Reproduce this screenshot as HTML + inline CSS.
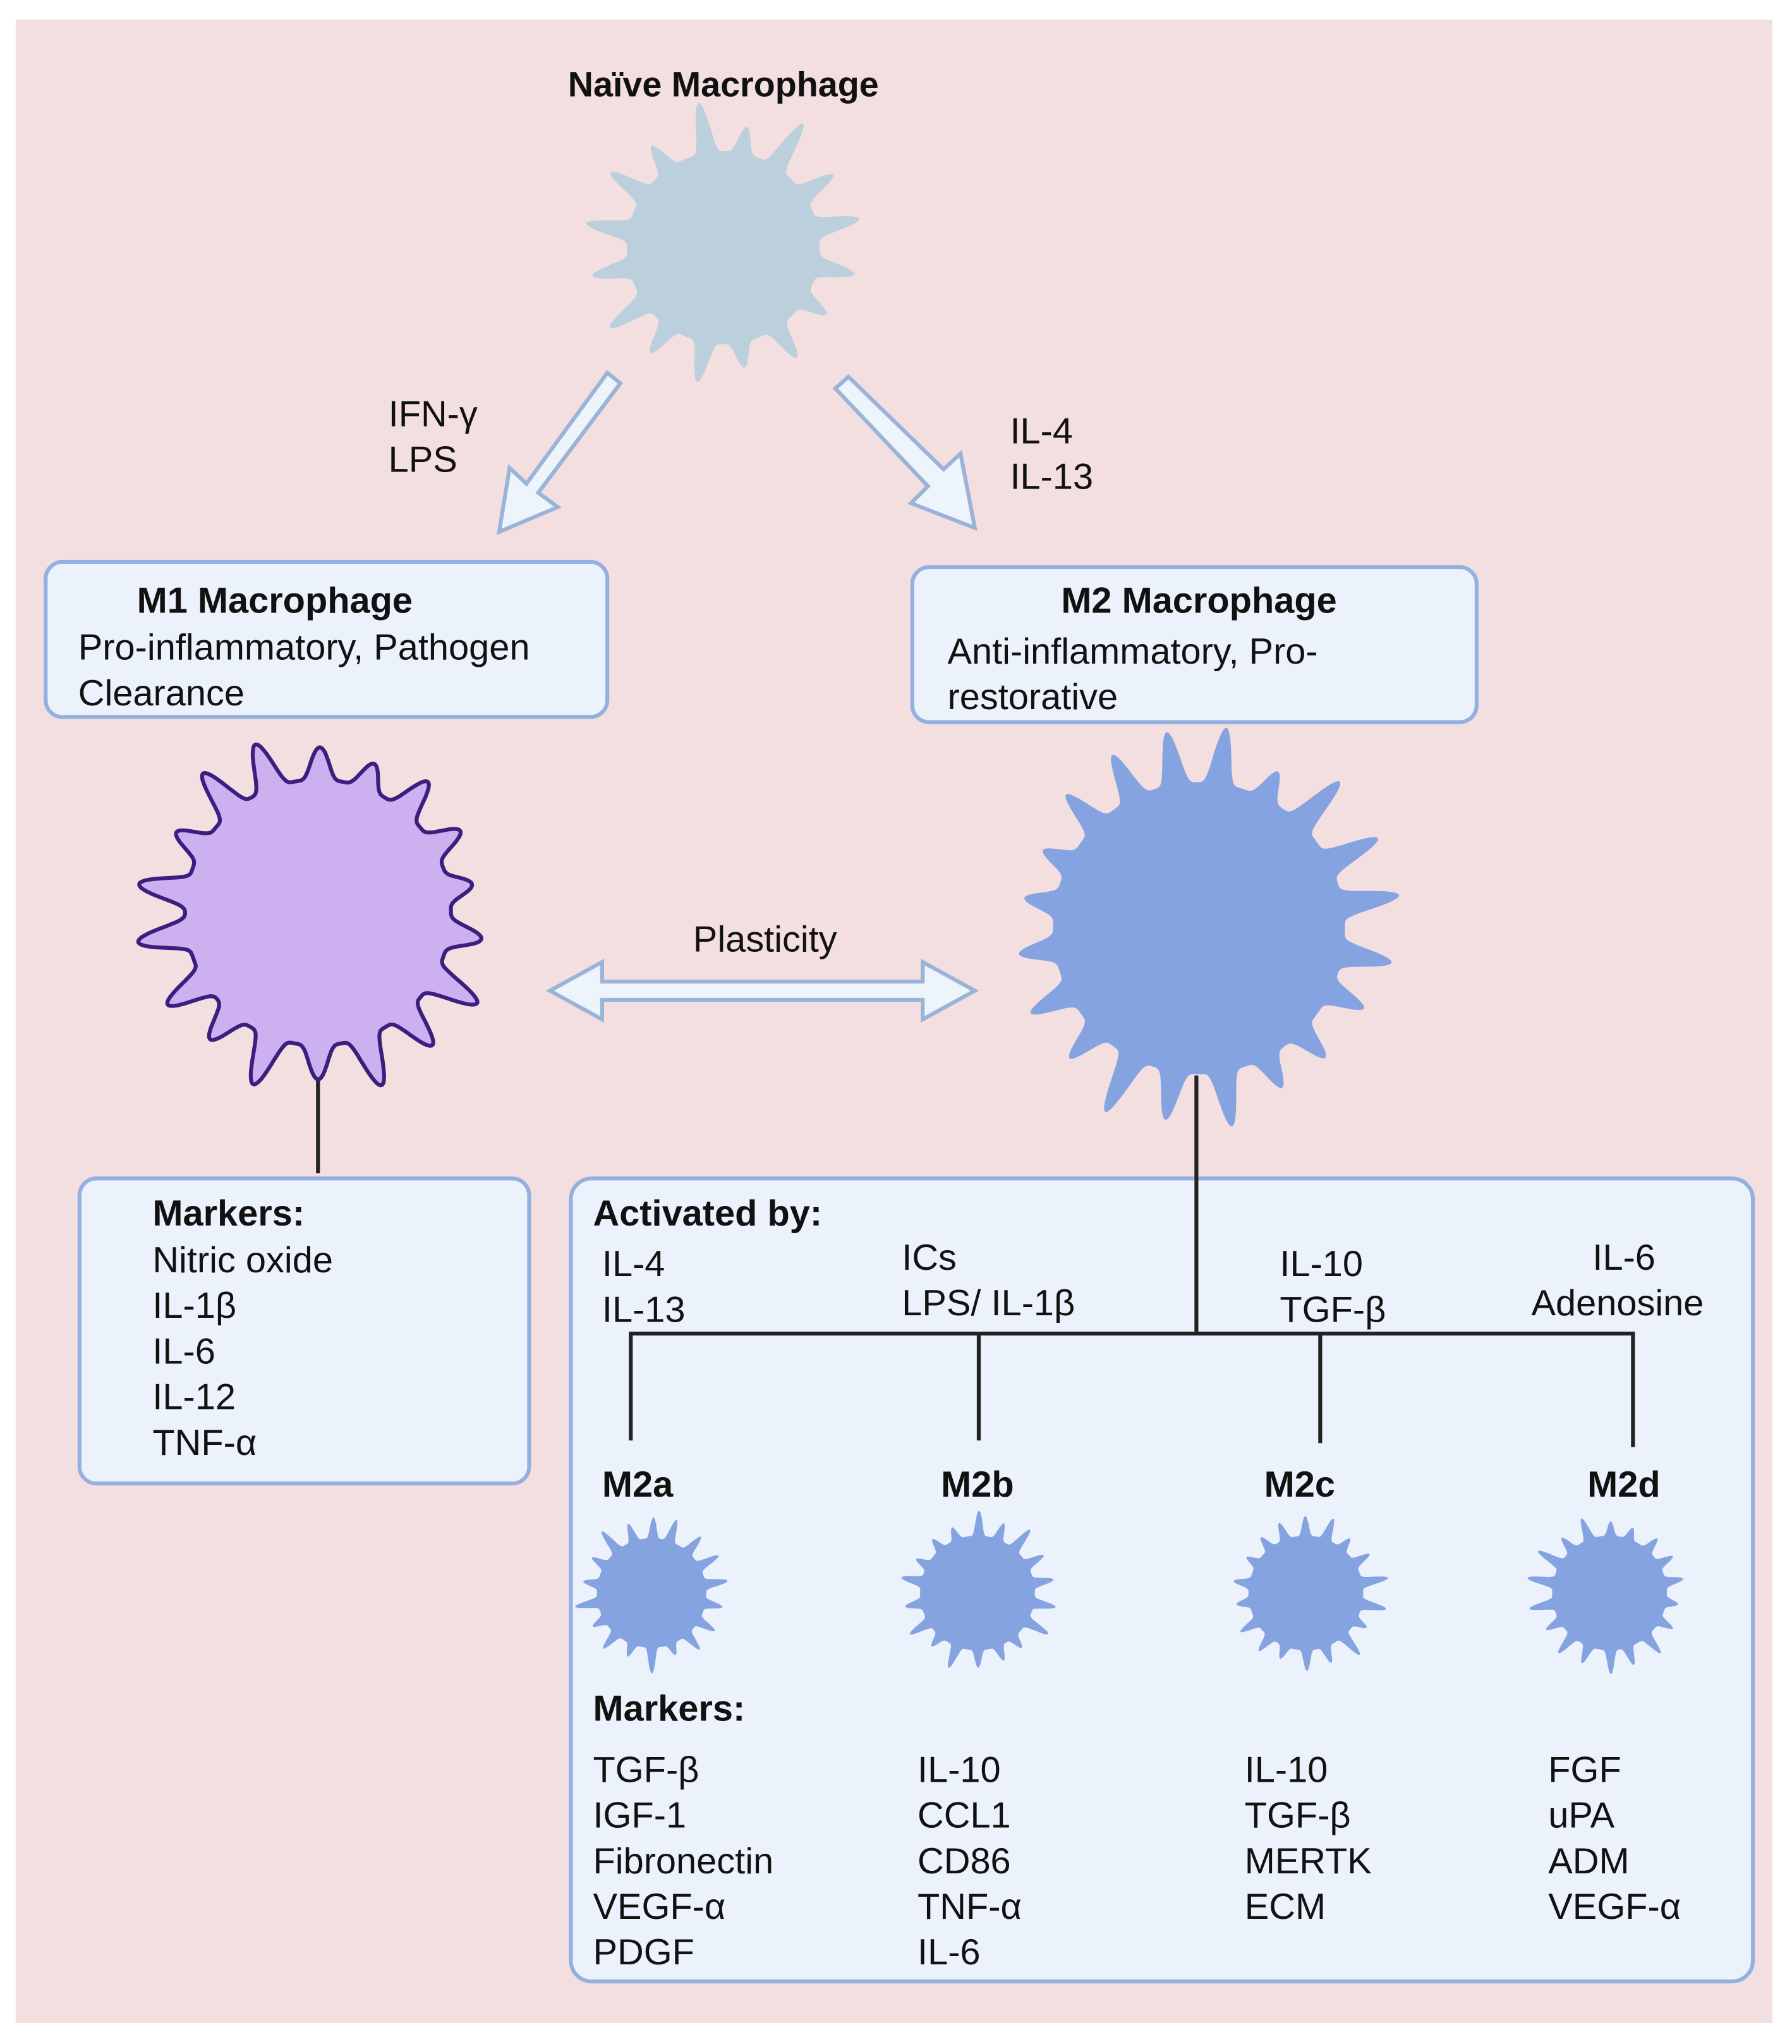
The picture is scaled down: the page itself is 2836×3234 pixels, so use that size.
<!DOCTYPE html>
<html><head><meta charset="utf-8"><style>
html,body{margin:0;padding:0;background:#fff}
svg{display:block}
text{font-family:"Liberation Sans",sans-serif;fill:#111;font-size:28px}
.b{font-weight:bold}
</style></head><body>
<svg id="s" width="2836" height="3234" viewBox="0 0 1375 1568" xmlns="http://www.w3.org/2000/svg">
<rect x="0" y="0" width="1375" height="1568" fill="#fff"/>
<rect x="12" y="15" width="1348" height="1537" fill="#f3dfdf"/>
<text x="555" y="74" text-anchor="middle" class="b" style="font-size:27px">Naïve Macrophage</text>
<g fill="#eef4fb" stroke="#9ab3d8" stroke-width="3" stroke-linejoin="miter">
<polygon points="466,286 476,294 413,378 428,389 383,408 391,359 404,371"/>
<polygon points="641,298 651,289 724,360 737,348 748,405 699,386 712,373"/>
<polygon points="422,760 462,738 462,753 708,753 708,738 748,760 708,782 708,767 462,767 462,782"/>
</g>
<text x="298" y="327">IFN-γ</text><text x="298" y="362">LPS</text>
<text x="775" y="340">IL-4</text><text x="775" y="375">IL-13</text>
<text x="587" y="730" text-anchor="middle">Plasticity</text>
<g fill="#ecf2fb" stroke="#94b0e0" stroke-width="3">
<rect x="35" y="431" width="431" height="119" rx="13"/>
<rect x="700" y="435" width="433" height="119" rx="13"/>
<rect x="61" y="904" width="345" height="234" rx="13"/>
<rect x="438" y="904" width="907" height="616" rx="16"/>
</g>
<text x="105" y="470" class="b">M1 Macrophage</text>
<text x="60" y="506">Pro-inflammatory, Pathogen</text>
<text x="60" y="541">Clearance</text>
<text x="920" y="470" class="b" text-anchor="middle">M2 Macrophage</text>
<text x="727" y="509">Anti-inflammatory, Pro-</text>
<text x="727" y="544">restorative</text>
<g stroke="#222" stroke-width="3" fill="none">
<line x1="244" y1="805" x2="244" y2="900"/>
<line x1="918" y1="825" x2="918" y2="1023"/>
<polyline points="484,1105 484,1023 1253,1023 1253,1110"/>
<line x1="751" y1="1023" x2="751" y2="1105"/>
<line x1="1013" y1="1023" x2="1013" y2="1107"/>
</g>
<g id="cells"></g>
<text x="117" y="940" class="b">Markers:</text>
<text x="117" y="976">Nitric oxide</text>
<text x="117" y="1011">IL-1β</text>
<text x="117" y="1046">IL-6</text>
<text x="117" y="1081">IL-12</text>
<text x="117" y="1116">TNF-α</text>
<text x="455" y="940" class="b">Activated by:</text>
<text x="462" y="979">IL-4</text><text x="462" y="1014">IL-13</text>
<text x="692" y="974">ICs</text><text x="692" y="1009">LPS/ IL-1β</text>
<text x="982" y="979">IL-10</text><text x="982" y="1014">TGF-β</text>
<text x="1222" y="974">IL-6</text><text x="1175" y="1009">Adenosine</text>
<text x="462" y="1148" class="b">M2a</text>
<text x="722" y="1148" class="b">M2b</text>
<text x="970" y="1148" class="b">M2c</text>
<text x="1218" y="1148" class="b">M2d</text>
<text x="455" y="1320" class="b">Markers:</text>
<g>
<text x="455" y="1367">TGF-β</text><text x="455" y="1402">IGF-1</text><text x="455" y="1437">Fibronectin</text><text x="455" y="1472">VEGF-α</text><text x="455" y="1507">PDGF</text>
<text x="704" y="1367">IL-10</text><text x="704" y="1402">CCL1</text><text x="704" y="1437">CD86</text><text x="704" y="1472">TNF-α</text><text x="704" y="1507">IL-6</text>
<text x="955" y="1367">IL-10</text><text x="955" y="1402">TGF-β</text><text x="955" y="1437">MERTK</text><text x="955" y="1472">ECM</text>
<text x="1188" y="1367">FGF</text><text x="1188" y="1402">uPA</text><text x="1188" y="1437">ADM</text><text x="1188" y="1472">VEGF-α</text>
</g>
</svg>
<script>
(function(){
var g=document.getElementById('cells');
function rnd(seed){var s=seed;return function(){s=(s*9301+49297)%233280;return s/233280;};}
function cell(cx,cy,R,A,N,seed,fill,stroke,sw,p){
  var r=rnd(seed),amps=[],offs=[];
  for(var i=0;i<N;i++){amps.push(A*(0.55+0.7*r()));offs.push((r()-0.5)*0.3);}
  var pts=[],M=720;
  for(var k=0;k<M;k++){
    var t=k/M*2*Math.PI;
    var f=t/(2*Math.PI)*N; var i=Math.floor(f)%N; var fr=f-Math.floor(f)-0.5-offs[i]*0.5;
    var sp=Math.pow(Math.max(0,Math.cos(fr*Math.PI)),p);
    var rr=R+amps[i]*sp;
    pts.push((cx+rr*Math.cos(t)).toFixed(1)+','+(cy+rr*Math.sin(t)).toFixed(1));
  }
  var e=document.createElementNS('http://www.w3.org/2000/svg','polygon');
  e.setAttribute('points',pts.join(' '));e.setAttribute('fill',fill);
  if(stroke){e.setAttribute('stroke',stroke);e.setAttribute('stroke-width',sw);e.setAttribute('stroke-linejoin','round');}
  g.appendChild(e);
}
cell(555,190,74,32,16,7,'#bccfdc',null,0,6);
cell(244,700,102,32,18,3,'#cdb0f0','#3a1f80',3,4);
cell(920,712,112,38,20,11,'#85a3e0',null,0,5);
cell(500,1222,42,16,18,5,'#85a3e0',null,0,6);
cell(750,1222,44,16,18,13,'#85a3e0',null,0,6);
cell(1002,1222,44,16,18,17,'#85a3e0',null,0,6);
cell(1235,1222,44,16,18,21,'#85a3e0',null,0,6);
})();
</script>
</body></html>
